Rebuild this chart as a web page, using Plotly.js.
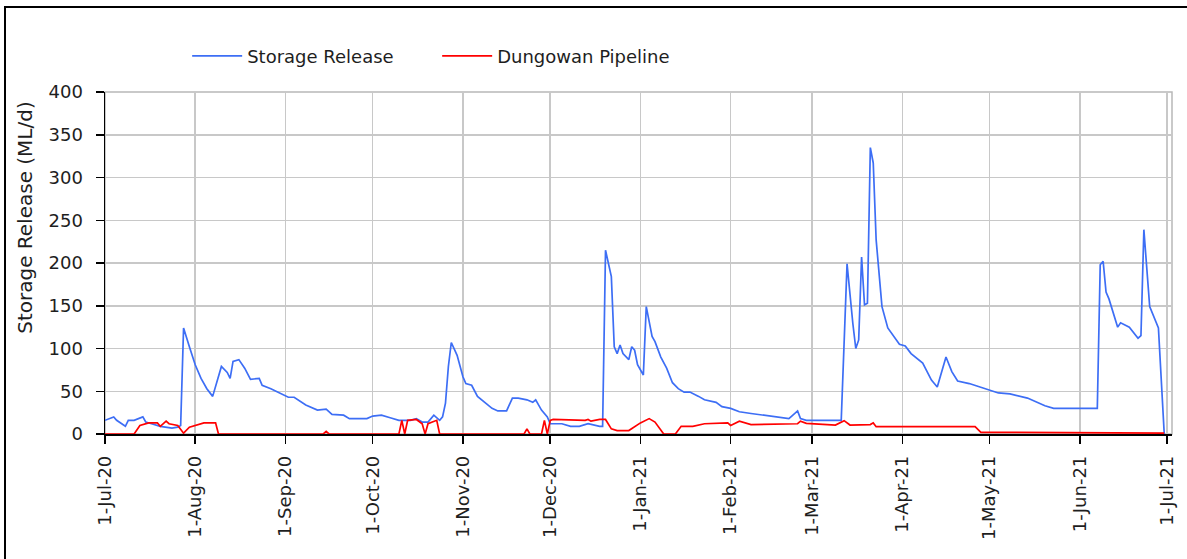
<!DOCTYPE html>
<html>
<head>
<meta charset="utf-8">
<script src="https://cdn.plot.ly/plotly-3.0.1.min.js"></script>
<style>
  html, body { margin: 0; padding: 0; background: #fff; }
  #wrap { position: relative; width: 1187px; height: 559px; overflow: hidden; }
  #chart { position: absolute; left: 0; top: 0; width: 1187px; height: 559px; }
  #frame { position: absolute; left: 4px; top: 6px; width: 1190px; height: 570px;
           border-top: 2px solid #000; border-left: 2px solid #000; pointer-events: none; }
</style>
</head>
<body>
<div id="wrap">
  <div id="chart"></div>
  <div id="frame"></div>
</div>
<script>
// ---- Data (ML/d) ----
const releaseDates = [
  '2020-07-01','2020-07-04','2020-07-05','2020-07-08','2020-07-09','2020-07-11','2020-07-14','2020-07-15',
  '2020-07-17','2020-07-20','2020-07-24','2020-07-26','2020-07-27','2020-07-28','2020-07-30','2020-08-01',
  '2020-08-03','2020-08-05','2020-08-07','2020-08-10','2020-08-12','2020-08-13','2020-08-14','2020-08-16',
  '2020-08-18','2020-08-20','2020-08-23','2020-08-24','2020-08-27','2020-08-31','2020-09-02','2020-09-04',
  '2020-09-08','2020-09-12','2020-09-15','2020-09-17','2020-09-21','2020-09-23','2020-09-29','2020-10-01',
  '2020-10-04','2020-10-07','2020-10-10','2020-10-14','2020-10-16','2020-10-18','2020-10-20','2020-10-22',
  '2020-10-24','2020-10-25','2020-10-26','2020-10-27','2020-10-28','2020-10-30','2020-11-01','2020-11-02',
  '2020-11-04','2020-11-06','2020-11-09','2020-11-11','2020-11-13','2020-11-16','2020-11-18','2020-11-20',
  '2020-11-23','2020-11-25','2020-11-26','2020-11-28','2020-11-30','2020-12-01','2020-12-05','2020-12-08',
  '2020-12-11','2020-12-14','2020-12-18','2020-12-19','2020-12-20','2020-12-22','2020-12-23','2020-12-24',
  '2020-12-25','2020-12-26','2020-12-28','2020-12-29','2020-12-30','2020-12-31','2021-01-02','2021-01-03',
  '2021-01-05','2021-01-06','2021-01-08','2021-01-10','2021-01-12','2021-01-14','2021-01-16','2021-01-18',
  '2021-01-21','2021-01-23','2021-01-27','2021-01-29','2021-02-01','2021-02-04','2021-02-08','2021-02-13',
  '2021-02-18','2021-02-21','2021-02-22','2021-02-24','2021-02-25','2021-02-27','2021-03-11','2021-03-13',
  '2021-03-15','2021-03-16','2021-03-17','2021-03-18','2021-03-19','2021-03-20','2021-03-21','2021-03-22',
  '2021-03-23','2021-03-25','2021-03-27','2021-03-31','2021-04-02','2021-04-04','2021-04-08','2021-04-11',
  '2021-04-13','2021-04-16','2021-04-18','2021-04-20','2021-04-24','2021-05-01','2021-05-04','2021-05-08',
  '2021-05-14','2021-05-20','2021-05-23','2021-06-07','2021-06-08','2021-06-09','2021-06-10','2021-06-11',
  '2021-06-13','2021-06-14','2021-06-15','2021-06-18','2021-06-21','2021-06-22','2021-06-23','2021-06-25',
  '2021-06-28','2021-06-30'
];
const releaseValues = [
  16,20,16,9,16,16,20,14,
  12,9,7,8,10,124,102,81,
  65,53,44,79,72,65,85,87,
  77,64,65,57,53,46,43,43,
  34,28,29,23,22,18,18,21,
  22,19,16,16,18,14,14,22,
  16,20,36,79,107,92,67,59,
  57,44,36,30,27,27,42,42,
  40,37,40,28,20,12,12,9,
  9,12,9,9,215,184,102,94,
  104,94,87,102,98,81,69,149,
  114,108,90,77,60,53,49,49,
  44,40,37,32,30,26,24,22,
  20,18,21,27,18,16,16,199,
  129,100,110,207,151,153,335,317,
  227,149,124,105,103,94,83,63,
  55,90,73,62,59,51,48,47,
  42,33,30,30,198,202,166,158,
  137,125,130,125,112,115,239,149,
  124,0
];

const pipelineDates = [
  '2020-07-01','2020-07-11','2020-07-13','2020-07-16','2020-07-19','2020-07-20','2020-07-22','2020-07-23',
  '2020-07-26','2020-07-28','2020-07-30','2020-08-01','2020-08-04','2020-08-08','2020-08-09','2020-09-14',
  '2020-09-15','2020-09-16','2020-10-10','2020-10-11','2020-10-12','2020-10-13','2020-10-16','2020-10-18',
  '2020-10-19','2020-10-20','2020-10-23','2020-10-24','2020-11-22','2020-11-23','2020-11-24','2020-11-28',
  '2020-11-29','2020-11-30','2020-12-01','2020-12-02','2020-12-09','2020-12-13','2020-12-14','2020-12-15',
  '2020-12-18','2020-12-20','2020-12-22','2020-12-24','2020-12-28','2021-01-01','2021-01-04','2021-01-06',
  '2021-01-09','2021-01-13','2021-01-15','2021-01-19','2021-01-23','2021-01-31','2021-02-01','2021-02-04',
  '2021-02-08','2021-02-24','2021-02-25','2021-02-27','2021-03-09','2021-03-12','2021-03-14','2021-03-21',
  '2021-03-22','2021-03-23','2021-04-26','2021-04-28','2021-06-30'
];
const pipelineValues = [
  0,0,10,13,13,9,15,12,
  10,1,8,10,13,13,0,0,
  3,0,0,16,0,16,17,12,
  0,12,16,0,0,6,0,0,
  16,0,16,17,16,16,17,15,
  17,17,6,4,4,13,18,14,
  0,0,9,9,12,13,10,15,
  11,12,15,12.5,10.5,15.6,10.5,11,
  13,8.6,8.6,2,1
];

const seriesNames = ['Storage Release', 'Dungowan Pipeline'];
const seriesColors = ['#3d6ef5', '#ff0000'];
const yTitle = 'Storage Release (ML/d)';

const FONT = 'DejaVu Sans, sans-serif';
const TXT = '#1e1e1e';

const traces = [
  { x: releaseDates, y: releaseValues, name: seriesNames[0], type: 'scatter', mode: 'lines',
    line: { color: seriesColors[0], width: 1.7 } },
  { x: pipelineDates, y: pipelineValues, name: seriesNames[1], type: 'scatter', mode: 'lines',
    line: { color: seriesColors[1], width: 1.7 } }
];

const layout = {
  width: 1187, height: 559, autosize: false,
  margin: { l: 105, r: 15, t: 92, b: 125, pad: 0 },
  paper_bgcolor: '#fff', plot_bgcolor: '#fff',
  font: { family: FONT, size: 18, color: TXT },
  showlegend: true,
  legend: {
    orientation: 'h', x: 0.077, xanchor: 'left', y: 1.105, yanchor: 'middle',
    font: { family: FONT, size: 18, color: TXT },
    itemwidth: 50, entrywidth: 185, entrywidthmode: 'pixels',
    bgcolor: 'rgba(0,0,0,0)', borderwidth: 0, traceorder: 'normal'
  },
  xaxis: {
    type: 'date',
    range: ['2020-07-01', '2021-07-02 16:00'],
    tick0: '2020-07-01', dtick: 'M1', tickformat: '%-d-%b-%y',
    tickangle: -90,
    ticks: 'outside', ticklen: 8, tickwidth: 1.5, tickcolor: '#000',
    showgrid: true, gridcolor: '#c8c8c8', gridwidth: 1.5,
    showline: true, linecolor: '#000', linewidth: 1.5,
    zeroline: false, ticklabelstandoff: 5,
    tickfont: { family: FONT, size: 18, color: TXT }
  },
  yaxis: {
    range: [0, 400], tick0: 0, dtick: 50,
    ticks: 'outside', ticklen: 8, tickwidth: 1.5, tickcolor: '#000',
    showgrid: true, gridcolor: '#c8c8c8', gridwidth: 1.5,
    showline: true, linecolor: '#000', linewidth: 1.5,
    zeroline: false, ticklabelstandoff: 9,
    tickfont: { family: FONT, size: 18, color: TXT }
  },
  annotations: [
    { text: yTitle, xref: 'paper', yref: 'paper', x: -0.075, y: 0.635,
      xanchor: 'center', yanchor: 'middle', textangle: -90, showarrow: false,
      font: { family: FONT, size: 20, color: TXT } }
  ],
  shapes: [
    { type: 'rect', xref: 'paper', yref: 'paper', x0: 0, x1: 1, y0: 0, y1: 1,
      line: { color: '#b8b8b8', width: 1.5 }, layer: 'below' }
  ]
};

Plotly.newPlot('chart', traces, layout, { displayModeBar: false, staticPlot: true });
</script>
</body>
</html>
